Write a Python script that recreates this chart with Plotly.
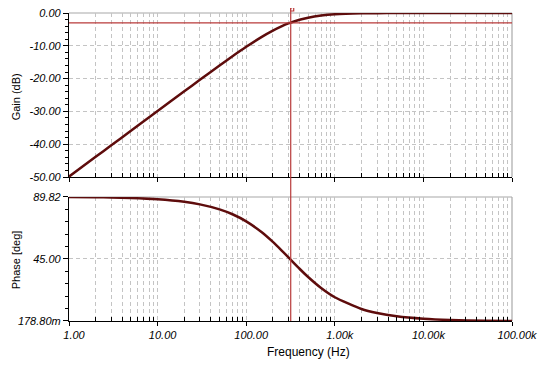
import plotly.graph_objects as go

# ---- data ----
freq_hz = [1, 2, 3, 5, 10, 20, 30, 50, 70, 100, 150, 200, 250, 300, 400, 500,
           700, 1000, 2000, 3000, 5000, 10000, 20000, 50000, 100000]
gain_db = [-49.88, -43.86, -40.34, -35.90, -29.89, -23.88, -20.38, -16.01, -13.19,
           -10.31, -7.26, -5.36, -4.08, -3.18, -2.06, -1.43, -0.79, -0.40, -0.10,
           -0.05, -0.02, 0.0, 0.0, 0.0, 0.0]
phase_deg = [89.82, 89.63, 89.45, 89.08, 88.16, 86.33, 84.51, 80.89, 77.35, 72.23,
             64.32, 57.34, 51.29, 46.12, 37.95, 31.96, 24.02, 17.33, 8.87, 5.94,
             3.57, 1.79, 0.89, 0.36, 0.18]

cursor_freq = 318
cursor_gain = -3.0

x_tickvals = [1, 10, 100, 1000, 10000, 100000]
x_ticktext = ["1.00", "10.00", "100.00", "1.00k", "10.00k", "100.00k"]
gain_tickvals = [0, -10, -20, -30, -40, -50]
gain_ticktext = ["0.00", "-10.00", "-20.00", "-30.00", "-40.00", "-50.00"]
phase_tickvals = [89.82, 45.0, 0.1788]
phase_ticktext = ["89.82", "45.00", "178.80m"]

CURVE = "#5e0c0c"
CURSOR = "#b83a3a"
GRID = "#c4c4c4"
DASH = "4px,3px"
FONT = "Liberation Sans, Arial, sans-serif"

minor_x = [m * 10 ** d for d in range(5) for m in range(2, 10)]

fig = go.Figure()
fig.add_trace(go.Scatter(x=freq_hz, y=gain_db, mode="lines", xaxis="x", yaxis="y",
                         line=dict(color=CURVE, width=2.5, shape="spline", smoothing=0.6),
                         showlegend=False))
fig.add_trace(go.Scatter(x=freq_hz, y=phase_deg, mode="lines", xaxis="x2", yaxis="y2",
                         line=dict(color=CURVE, width=2.5, shape="spline", smoothing=0.6),
                         showlegend=False))

xcommon = dict(type="log", range=[0, 5], showline=True, linecolor="black", linewidth=1.2,
               tickvals=x_tickvals, ticks="outside", ticklen=4, tickcolor="black",
               showgrid=True, gridcolor=GRID, griddash=DASH, gridwidth=1,
               minor=dict(tickvals=minor_x, ticks="inside", ticklen=4, tickcolor="black",
                          showgrid=True, gridcolor=GRID, griddash=DASH, gridwidth=1),
               zeroline=False, automargin=False, ticklabelshift=5,
               ticklabeloverflow="allow",
               tickfont=dict(family=FONT, size=11, color="black", style="italic"))

ycommon = dict(showline=True, linecolor="black", linewidth=1.2,
               ticks="outside", ticklen=5, tickcolor="black",
               showgrid=True, gridcolor=GRID, griddash=DASH,
               zeroline=False, automargin=False, ticklabeloverflow="allow",
               tickfont=dict(family=FONT, size=11, color="black", style="italic"))

# The page body has an 8px margin, so the figure is sized/offset to compensate.
fig.update_layout(
    width=530, height=352,
    margin=dict(l=61, r=26, t=5, b=39, autoexpand=False),
    paper_bgcolor="white", plot_bgcolor="white",
    font=dict(family=FONT, size=11, color="black"),
    xaxis=dict(xcommon, anchor="y", showticklabels=False),
    xaxis2=dict(xcommon, anchor="y2", matches="x", ticktext=x_ticktext, showticklabels=True),
    yaxis=dict(ycommon, domain=[0.4675, 1.0], range=[-50, 0], anchor="x",
               tickvals=gain_tickvals, ticktext=gain_ticktext,
               minor=dict(dtick=2, tick0=0, ticks="outside", ticklen=3, tickcolor="black")),
    yaxis2=dict(ycommon, domain=[0.0, 0.4026], range=[0.1788, 89.82], anchor="x2",
                tickvals=phase_tickvals, ticktext=phase_ticktext,
                minor=dict(dtick=9, tick0=0, ticks="outside", ticklen=3, tickcolor="black")),
)

# plot frames (grey top/right borders)
for xr, yr in (("x domain", "y domain"), ("x2 domain", "y2 domain")):
    fig.add_shape(type="line", xref=xr, yref=yr, x0=0, x1=1, y0=1, y1=1,
                  line=dict(color="#a8a8a8", width=1.2), layer="below")
    fig.add_shape(type="line", xref=xr, yref=yr, x0=1, x1=1, y0=0, y1=1,
                  line=dict(color="#a8a8a8", width=1.2), layer="below")

# cursor lines
fig.add_shape(type="line", xref="x domain", yref="y", x0=0, x1=1,
              y0=cursor_gain, y1=cursor_gain, line=dict(color=CURSOR, width=1.2))
fig.add_shape(type="line", xref="x", yref="paper", x0=cursor_freq, x1=cursor_freq,
              y0=0, y1=1.0, line=dict(color=CURSOR, width=1.2))
fig.add_shape(type="line", xref="x", yref="paper", x0=cursor_freq, x1=cursor_freq,
              ysizemode="pixel", yanchor=1, y0=0, y1=5, line=dict(color=CURSOR, width=1.2))
# cursor marker box above the gain plot
fig.add_shape(type="rect", xref="x", yref="paper", xsizemode="pixel", ysizemode="pixel",
              xanchor=cursor_freq, yanchor=1, x0=-3, x1=3, y0=2, y1=8,
              line=dict(color=CURSOR, width=1.2), fillcolor="white")
fig.add_shape(type="line", xref="x", yref="paper", xsizemode="pixel", ysizemode="pixel",
              xanchor=cursor_freq, yanchor=1, x0=-1.5, x1=1.5, y0=5, y1=5,
              line=dict(color=CURSOR, width=1))

# axis titles
fig.add_annotation(text="Gain (dB)", xref="paper", yref="paper", x=-0.119, y=0.727,
                   xanchor="center", yanchor="middle", textangle=-90, showarrow=False,
                   font=dict(family=FONT, size=11))
fig.add_annotation(text="Phase [deg]", xref="paper", yref="paper", x=-0.119, y=0.198,
                   xanchor="center", yanchor="middle", textangle=-90, showarrow=False,
                   font=dict(family=FONT, size=11))
fig.add_annotation(text="Frequency (Hz)", xref="paper", yref="paper", x=0.54, y=-0.10,
                   xanchor="center", yanchor="middle", showarrow=False,
                   font=dict(family=FONT, size=12))

fig.write_html("out.html")
